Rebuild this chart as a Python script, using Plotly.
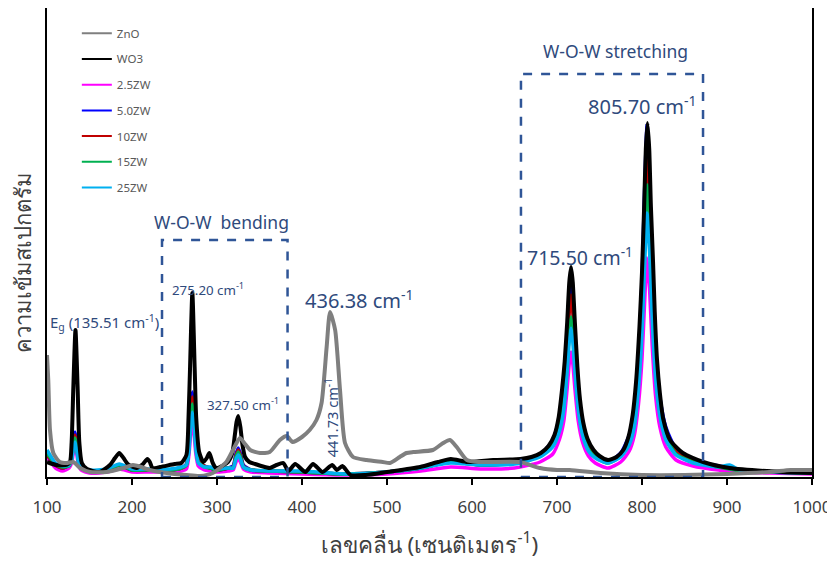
import plotly.graph_objects as go

# ---------------- data (intensity in arbitrary units) ----------------
series_names = ["ZnO", "WO3", "2.5ZW", "5.0ZW", "10ZW", "15ZW", "25ZW"]
series_colors = ["#7F7F7F", "#000000", "#FF00FF", "#0000FF", "#C00000", "#00B050", "#00B0F0"]

# WO3 (black)
wo3_x = [100, 111, 123, 127, 129, 131, 133.5, 136, 138, 141, 147, 162, 174, 180, 185, 190, 195, 205,
         213, 218, 221, 224, 233, 250, 258, 264, 266.5, 268.3, 271, 273.7, 275.5, 279, 284, 288, 291,
         295, 299, 306, 313, 318, 321, 323, 325, 327.5, 330, 333, 338, 345, 352, 362, 370, 378, 384,
         392, 404, 413, 424, 435.6, 441, 447.5, 457, 475, 500, 539, 560, 575, 595, 625, 657, 670, 681,
         690, 697, 702, 706, 709, 712, 714.5, 716.5, 718.5, 721, 724, 727, 731, 736, 743, 750, 760,
         770, 778, 784, 789, 793, 797, 800, 802.5, 804.5, 806.4, 808.5, 810.5, 813, 815, 817.6, 821,
         825, 833, 848, 872, 903, 966, 1000]
wo3_y = [15, 12, 12, 15, 35, 90, 147, 90, 35, 14, 8, 5, 12, 19, 24, 19, 13, 9,
         13, 18, 15, 9, 10, 13, 14, 22, 60, 110, 184, 110, 60, 25, 15, 19, 24,
         14, 9, 11, 15, 24, 42, 55, 61, 50, 32, 20, 15, 13, 11, 9, 12, 14, 6,
         13, 5, 13, 5, 12, 7, 11, 2, 2, 5, 10, 15, 18, 15, 17, 18, 20, 24,
         31, 42, 60, 88, 115, 155, 195, 210, 195, 155, 110, 78, 54, 38, 27, 21, 17,
         20, 27, 40, 62, 95, 150, 205, 270, 328, 354, 328, 270, 215, 165, 118, 84,
         58, 37, 24, 15, 9, 5, 4]

# ZnO (grey)
zno_x = [100, 101.5, 103.5, 107.4, 115, 123, 131, 139, 150.6, 170, 190, 201, 211, 221, 241, 264, 280,
         295, 311, 320, 327, 333, 339, 350.6, 362, 374, 382, 389, 400, 409, 417, 423, 429, 433, 439,
         444.7, 450.6, 460, 476, 495, 503.5, 515, 523, 531, 554, 566, 574, 582, 594, 609, 656, 680,
         700, 715, 751, 800, 850, 900, 950, 975, 1000]
zno_y = [122, 97, 47, 24, 15, 14, 15, 9, 5, 5, 9, 12, 10, 7, 4, 2, 1,
         4, 15, 29, 39, 33, 27, 24, 25, 37, 41, 35, 40, 47, 57, 74, 130, 165, 147,
         87, 34, 20, 17, 15, 14, 20, 24, 25, 27, 34, 37, 30, 17, 15, 15, 9,
         7, 7, 4, 2, 2, 3, 5, 7, 7]

# composites share one wavenumber grid
zw_x = [100, 105, 110, 118, 126, 129, 131, 133, 135, 137, 140, 150, 170, 185, 200, 220, 245, 258,
        264, 267, 269, 271, 273, 275, 278, 285, 292, 300, 313, 319, 322, 325, 328, 331, 340, 360,
        400, 450, 500, 540, 575, 610, 650, 680, 695, 703, 708, 712, 714.5, 716.5, 718.5, 721, 725,
        730, 737, 745, 760, 775, 785, 791, 796, 800, 803, 806, 809, 812, 816, 821, 828, 840, 860,
        890, 903, 915, 950, 1000]
zw25_mag = [20, 14, 9, 6, 9, 14, 24, 30, 23, 12, 7, 4, 5, 8, 5, 5, 5, 6,
            8, 22, 43, 54, 43, 24, 11, 7, 6, 5, 6, 7, 14, 19, 14, 8, 5, 4,
            3, 2, 3, 6, 10, 8, 9, 15, 23, 38, 56, 89, 114, 125, 114, 89, 56,
            35, 21, 14, 9, 15, 26, 42, 74, 118, 173, 219, 186, 131, 81, 50, 30, 17, 11,
            7, 6, 5, 4, 3]
zw50_blue = [22, 17, 12, 9, 12, 20, 36, 45, 34, 18, 10, 6, 7, 12, 7, 7, 7, 9,
             13, 34, 68, 85, 68, 38, 17, 11, 9, 7, 9, 11, 22, 29, 22, 12, 7, 6,
             5, 3, 5, 9, 15, 12, 14, 22, 37, 60, 87, 138, 177, 194, 177, 138, 87,
             54, 33, 23, 15, 24, 42, 67, 122, 195, 285, 352, 295, 210, 130, 80, 50, 28, 17,
             11, 9, 7, 5, 4]
zw10_red = [22, 17, 12, 9, 12, 19, 33, 42, 32, 17, 10, 6, 7, 12, 7, 7, 7, 9,
            12, 32, 64, 80, 64, 36, 16, 11, 9, 7, 9, 10, 20, 27, 20, 11, 7, 6,
            5, 3, 5, 9, 15, 12, 14, 21, 35, 56, 82, 129, 166, 182, 166, 129, 82,
            51, 31, 22, 15, 22, 38, 60, 108, 171, 250, 317, 269, 190, 117, 73, 44, 25, 16,
            10, 9, 7, 5, 4]
zw15_green = [24, 18, 13, 10, 11, 18, 31, 39, 30, 16, 9, 6, 7, 12, 7, 7, 7, 9,
              12, 29, 58, 73, 58, 33, 15, 10, 9, 7, 9, 9, 19, 25, 19, 10, 7, 6,
              5, 3, 5, 9, 15, 12, 14, 21, 32, 50, 72, 114, 146, 160, 146, 114, 72,
              45, 28, 20, 14, 21, 35, 56, 99, 158, 231, 292, 248, 175, 108, 67, 41, 23, 15,
              10, 8, 6, 5, 4]
zw25_cyan = [27, 20, 14, 11, 12, 17, 28, 35, 27, 15, 10, 7, 8, 13, 8, 8, 8, 10,
             12, 26, 52, 65, 52, 29, 14, 10, 10, 8, 9, 9, 17, 22, 17, 10, 7, 6,
             6, 3, 5, 9, 14, 12, 13, 20, 30, 46, 67, 106, 136, 149, 136, 106, 67,
             42, 26, 19, 14, 20, 32, 50, 90, 143, 209, 264, 224, 158, 98, 61, 37, 22, 14,
             10, 12, 7, 5, 4]

x_ticks = [100, 200, 300, 400, 500, 600, 700, 800, 900, 1000]

TXT = "#2F4A7C"
BOX = "#2F5597"
FONT = "Noto Sans, Open Sans, sans-serif"

fig = go.Figure()

# composites (drawn first), then WO3, then ZnO on top
comp = [("2.5ZW", zw25_mag), ("5.0ZW", zw50_blue), ("10ZW", zw10_red),
        ("15ZW", zw15_green), ("25ZW", zw25_cyan)]
cmap = dict(zip(series_names, series_colors))
for name, ys in comp:
    fig.add_trace(go.Scatter(x=zw_x, y=ys, mode="lines", name=name, showlegend=False,
                             line=dict(color=cmap[name], width=3.5, shape="spline", smoothing=0.6)))
fig.add_trace(go.Scatter(x=wo3_x, y=wo3_y, mode="lines", name="WO3", showlegend=False,
                         line=dict(color=cmap["WO3"], width=4, shape="spline", smoothing=0.6)))
fig.add_trace(go.Scatter(x=zno_x, y=zno_y, mode="lines", name="ZnO", showlegend=False,
                         line=dict(color=cmap["ZnO"], width=4, shape="spline", smoothing=0.6)))

# legend entries (thin sample lines)
for i, name in enumerate(series_names):
    fig.add_trace(go.Scatter(x=[None], y=[None], mode="lines", name=name, legendgroup=name,
                             line=dict(color=cmap[name], width=2), showlegend=True))

# dashed boxes
fig.add_shape(type="rect", xref="x", yref="y", x0=235.3, x1=383, y0=0, y1=237,
              line=dict(color=BOX, width=2.5, dash="dash"))
fig.add_shape(type="rect", xref="x", yref="y", x0=657.6, x1=871.8, y0=0, y1=403,
              line=dict(color=BOX, width=2.5, dash="dash"))

def ann(x, y, text, size, angle=0):
    fig.add_annotation(x=x, y=y, xref="x", yref="y", text=text, showarrow=False,
                       textangle=angle, font=dict(family=FONT, size=size, color=TXT))

ann(305.3, 255, "W-O-W  bending", 17.5)
ann(769.4, 426, "W-O-W stretching", 17.5)
ann(800.4, 372, "805.70 cm<sup>-1</sup>", 20)
ann(727.6, 221, "715.50 cm<sup>-1</sup>", 19.5)
ann(467.9, 178, "436.38 cm<sup>-1</sup>", 20)
ann(289.8, 188, "275.20 cm<sup>-1</sup>", 13.3)
ann(330, 73, "327.50 cm<sup>-1</sup>", 13.3)
ann(167.6, 155, "E<sub>g</sub> (135.51 cm<sup>-1</sup>)", 15)
ann(435, 59.5, "441.73 cm<sup>-1</sup>", 14.6, angle=-90)

# y-axis title placed as a rotated paper annotation
fig.add_annotation(x=-0.0327, y=0.458, xref="paper", yref="paper", text="ความเข้มสเปกตรัม",
                   showarrow=False, textangle=-90, xanchor="center", yanchor="middle",
                   font=dict(family=FONT, size=22, color="#404040"))

# the page body adds an 8px offset, margins compensate for it
fig.update_layout(
    width=835, height=561,
    margin=dict(l=39, r=31, t=0, b=92),
    paper_bgcolor="white", plot_bgcolor="white",
    showlegend=True,
    legend=dict(x=0.039, y=0.977, xanchor="left", yanchor="top",
                traceorder="grouped", tracegroupgap=6.7,
                font=dict(family=FONT, size=11.5, color="#595959"),
                bgcolor="rgba(0,0,0,0)"),
    xaxis=dict(range=[100, 1000], tickvals=x_ticks, ticktext=[str(t) for t in x_ticks],
               automargin=False,
               showline=True, linecolor="black", linewidth=1.5, mirror=False,
               ticks="outside", ticklen=6, tickcolor="black", tickwidth=1.5,
               ticklabelstandoff=8,
               showgrid=False, zeroline=False,
               tickfont=dict(family="Liberation Sans Narrow, Noto Sans, sans-serif", size=17, color="#404040"),
               title=dict(text="เลขคลื่น (เซนติเมตร<sup>-1</sup>)", standoff=20,
                          font=dict(family=FONT, size=22.5, color="#404040"))),
    yaxis=dict(range=[0, 469], automargin=False,
               showline=True, linecolor="black", linewidth=1.5, mirror=True,
               ticks="", showticklabels=False, showgrid=False, zeroline=False),
)

fig.write_html("out.html")
